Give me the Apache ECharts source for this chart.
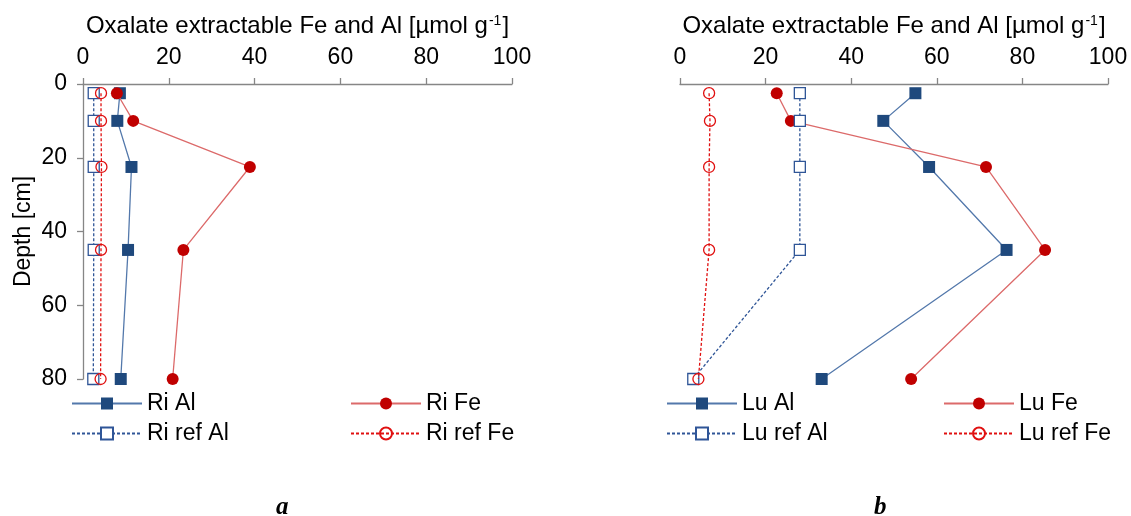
<!DOCTYPE html>
<html>
<head>
<meta charset="utf-8">
<script src="https://cdn.jsdelivr.net/npm/echarts@6/dist/echarts.min.js"></script>
<style>
  html, body { margin: 0; padding: 0; background: #fff; }
  #chart { width: 1131px; height: 516px; }
</style>
</head>
<body>
<div id="chart"></div>
<script>
// Sampling depths (cm) shared by every profile
const depths = [2.5, 10, 22.5, 45, 80];

// Profile a: Ri site (µmol g-1)
const riAl    = [8.6, 8.0, 11.3, 10.5, 8.8];
const riFe    = [7.9, 11.7, 38.9, 23.4, 20.9];
const riRefAl = [2.5, 2.5, 2.5, 2.5, 2.4];
const riRefFe = [4.2, 4.2, 4.3, 4.2, 4.1];

// Profile b: Lu site (µmol g-1)
const luAl    = [55.0, 47.5, 58.2, 76.3, 33.1];
const luFe    = [22.6, 25.9, 71.5, 85.3, 54.0];
const luRefAl = [28.0, 28.0, 28.0, 28.0, 3.1];
const luRefFe = [6.8, 7.0, 6.8, 6.8, 4.3];

const xTicks = [0, 20, 40, 60, 80, 100];
const yTicks = [0, 20, 40, 60, 80];
const xTitle = 'Oxalate extractable Fe and Al [µmol g';
const yTitle = 'Depth [cm]';
const panelLabels = ['a', 'b'];

const FONT = '"Liberation Sans", Arial, sans-serif';
const AXIS_GRAY = '#868686';

const pairs = vals => vals.map((v, i) => [v, depths[i]]);

function xAxisFor(gridIndex) {
  return {
    gridIndex, type: 'value', position: 'top',
    min: xTicks[0], max: xTicks[xTicks.length - 1], interval: xTicks[1] - xTicks[0],
    name: '{t|' + xTitle + '}{s|-1}{t|]}',
    nameLocation: 'middle', nameGap: 46,
    nameTextStyle: {
      rich: {
        t: { fontFamily: FONT, fontSize: 24, color: '#000' },
        s: { fontFamily: FONT, fontSize: 14, color: '#000', verticalAlign: 'top', padding: [0, 1, 10, 1] }
      }
    },
    axisLine: { show: true, lineStyle: { color: AXIS_GRAY, width: 1.3 } },
    axisTick: { show: true, inside: false, length: 6, lineStyle: { color: AXIS_GRAY, width: 1.3 } },
    axisLabel: { margin: 15, fontFamily: FONT, fontSize: 23, color: '#000' },
    splitLine: { show: false }
  };
}

function yAxisFor(gridIndex, visible) {
  return {
    gridIndex, type: 'value', inverse: true,
    min: yTicks[0], max: yTicks[yTicks.length - 1], interval: yTicks[1] - yTicks[0],
    name: visible ? yTitle : '',
    nameLocation: 'middle', nameGap: 48,
    nameTextStyle: { fontFamily: FONT, fontSize: 23, color: '#000' },
    axisLine: { show: visible, lineStyle: { color: AXIS_GRAY, width: 1.3 } },
    axisTick: { show: visible, length: 6, lineStyle: { color: AXIS_GRAY, width: 1.3 } },
    axisLabel: { show: visible, margin: 16, fontFamily: FONT, fontSize: 23, color: '#000' },
    splitLine: { show: false }
  };
}

// Four series styles: measured Al/Fe and reference Al/Fe
function alSeries(name, vals, idx) {
  return {
    name, type: 'line', xAxisIndex: idx, yAxisIndex: idx, data: pairs(vals),
    symbol: 'rect', symbolSize: 12,
    itemStyle: { color: '#1f497d' },
    lineStyle: { color: '#5378ab', width: 1.3 },
    z: 2
  };
}
function feSeries(name, vals, idx) {
  return {
    name, type: 'line', xAxisIndex: idx, yAxisIndex: idx, data: pairs(vals),
    symbol: 'circle', symbolSize: 12,
    itemStyle: { color: '#c00000' },
    lineStyle: { color: '#dc6a6a', width: 1.3 },
    z: 3
  };
}
function refAlSeries(name, vals, idx) {
  return {
    name, type: 'line', xAxisIndex: idx, yAxisIndex: idx, data: pairs(vals),
    symbol: 'rect', symbolSize: 11,
    itemStyle: { color: '#fff', borderColor: '#2f5597', borderWidth: 1.3 },
    lineStyle: { color: '#2f5597', width: 1.3, type: [3, 2] },
    z: 4
  };
}
function refFeSeries(name, vals, idx) {
  return {
    name, type: 'line', xAxisIndex: idx, yAxisIndex: idx, data: pairs(vals),
    symbol: 'circle', symbolSize: 11,
    itemStyle: { color: 'rgba(255,255,255,0)', borderColor: '#e01010', borderWidth: 1.3 },
    lineStyle: { color: '#e01010', width: 1.3, type: [3, 2] },
    z: 5
  };
}

function legendCol(names, left) {
  return {
    data: names, orient: 'vertical', left, top: 392, padding: 0,
    itemWidth: 70, itemHeight: 15, itemGap: 7,
    textStyle: { fontFamily: FONT, fontSize: 23, color: '#000' },
    selectedMode: false
  };
}

const option = {
  animation: false,
  backgroundColor: '#fff',
  grid: [
    { left: 83, top: 84, width: 429, height: 295 },
    { left: 680, top: 84, width: 428, height: 295 }
  ],
  xAxis: [xAxisFor(0), xAxisFor(1)],
  yAxis: [yAxisFor(0, true), yAxisFor(1, false)],
  legend: [
    legendCol(['Ri Al', 'Ri ref Al'], 71),
    legendCol(['Ri Fe', 'Ri ref Fe'], 350),
    legendCol(['Lu Al', 'Lu ref Al'], 666),
    legendCol(['Lu Fe', 'Lu ref Fe'], 943)
  ],
  title: panelLabels.map((t, i) => ({
    text: t, left: i === 0 ? 271 : 869, top: 490,
    textStyle: { fontFamily: '"Liberation Serif", "Times New Roman", serif', fontStyle: 'italic', fontWeight: 'bold', fontSize: 25, color: '#000' }
  })),
  series: [
    alSeries('Ri Al', riAl, 0),
    feSeries('Ri Fe', riFe, 0),
    refAlSeries('Ri ref Al', riRefAl, 0),
    refFeSeries('Ri ref Fe', riRefFe, 0),
    alSeries('Lu Al', luAl, 1),
    feSeries('Lu Fe', luFe, 1),
    refAlSeries('Lu ref Al', luRefAl, 1),
    refFeSeries('Lu ref Fe', luRefFe, 1)
  ]
};

echarts.init(document.getElementById('chart'), null, { renderer: 'canvas' }).setOption(option);
</script>
</body>
</html>
